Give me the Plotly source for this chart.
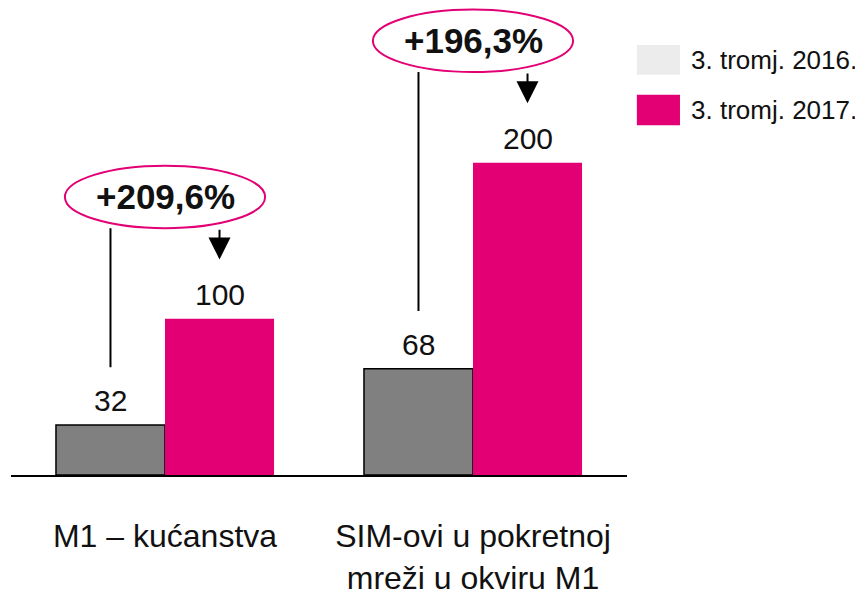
import plotly.graph_objects as go

categories = ["M1 – kućanstva", "SIM-ovi u pokretnoj<br>mreži u okviru M1"]
series_names = ["3. tromj. 2016.", "3. tromj. 2017."]
values_2016 = [32, 68]
values_2017 = [100, 200]
growth_labels = ["+209,6%", "+196,3%"]

MAGENTA = "#e20074"
GRAY = "#808080"
LEGEND_GRAY = "#ececec"
FONT = "Liberation Sans, Arial, sans-serif"
TXT = "#111111"
YMAX = 299.0

fig = go.Figure()
fig.add_trace(go.Bar(
    x=[0, 1], y=values_2016, name=series_names[0],
    marker=dict(color=GRAY, line=dict(color="black", width=1.5)),
    showlegend=False,
))
fig.add_trace(go.Bar(
    x=[0, 1], y=values_2017, name=series_names[1],
    marker=dict(color=MAGENTA, line=dict(width=0)),
    showlegend=False,
))

off = 0.177
shapes = []
annotations = []
for i in range(2):
    g = values_2016[i]
    m = values_2017[i]
    # value labels
    for xv, v in ((i - off, g), (i + off, m)):
        annotations.append(dict(x=xv, y=v, xref="x", yref="y", text=str(v), showarrow=False,
                                yanchor="bottom", yshift=6,
                                font=dict(size=30, color=TXT, family=FONT)))
    cy = m + 78
    # vertical connector from gray label to ellipse
    shapes.append(dict(type="line", xref="x", yref="y", x0=i - off, x1=i - off,
                       y0=g + 37, y1=cy - 20, line=dict(color="black", width=2)))
    # ellipse
    shapes.append(dict(type="circle", xref="x", yref="paper", x0=i - 0.325, x1=i + 0.325,
                       y0=(cy - 20) / YMAX, y1=(cy + 20) / YMAX,
                       line=dict(color=MAGENTA, width=2),
                       fillcolor="white", layer="above"))
    annotations.append(dict(x=i, y=cy, xref="x", yref="y", text="<b>%s</b>" % growth_labels[i],
                            showarrow=False, font=dict(size=35, color=TXT, family=FONT)))
    # arrow to magenta label
    annotations.append(dict(x=i + off, y=m + 38, xref="x", yref="y", text="",
                            showarrow=True, axref="x", ayref="y", ax=i + off, ay=cy - 20,
                            arrowhead=2, arrowsize=2.2, arrowwidth=2, arrowcolor="black",
                            standoff=0, startstandoff=0))

# manual legend
leg_colors = [LEGEND_GRAY, MAGENTA]
leg_y = [(0.857, 0.921), (0.749, 0.814)]
for (y0, y1), col, name in zip(leg_y, leg_colors, series_names):
    shapes.append(dict(type="rect", xref="paper", yref="paper", x0=1.016, x1=1.086,
                       y0=y0, y1=y1, fillcolor=col, line=dict(width=0)))
    annotations.append(dict(x=1.100, y=(y0 + y1) / 2, xref="paper", yref="paper",
                            text=name, showarrow=False, xanchor="left", yanchor="middle",
                            font=dict(size=26, color=TXT, family=FONT)))

fig.update_layout(
    width=863, height=603,
    margin=dict(l=3, r=244, t=0, b=136),
    paper_bgcolor="white", plot_bgcolor="white",
    barmode="group", bargap=0.292, bargroupgap=0.0,
    font=dict(family=FONT, color=TXT),
    shapes=shapes, annotations=annotations,
    showlegend=False,
    xaxis=dict(range=[-0.5, 1.5], tickmode="array", tickvals=[0, 1], ticktext=categories,
               showline=True, linecolor="black", linewidth=2, showgrid=False, zeroline=False,
               ticks="outside", ticklen=32, tickcolor="rgba(0,0,0,0)",
               tickfont=dict(size=32, color=TXT, family=FONT), fixedrange=True),
    yaxis=dict(range=[0, YMAX], visible=False, showgrid=False, zeroline=False, fixedrange=True),
)

fig.write_html("out.html")
